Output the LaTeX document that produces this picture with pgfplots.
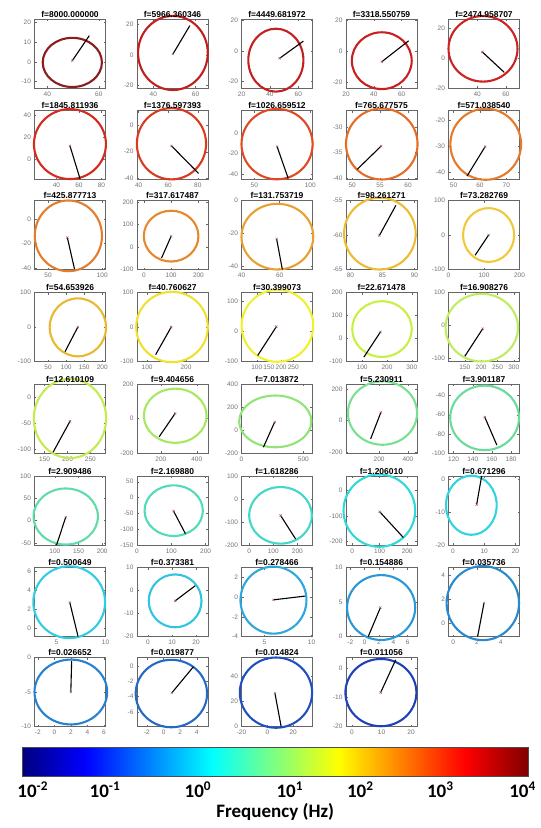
\documentclass[border=0pt]{standalone}
\usepackage{fontspec}
\setmainfont{Liberation Sans}
\newfontfamily\carlito{Carlito}
\usepackage{pgfplots}
\pgfplotsset{compat=1.18}
\definecolor{c1}{HTML}{8E1C1C}
\definecolor{c2}{HTML}{C21E1E}
\definecolor{c3}{HTML}{C42020}
\definecolor{c4}{HTML}{C82020}
\definecolor{c5}{HTML}{CE2222}
\definecolor{c6}{HTML}{D42A20}
\definecolor{c7}{HTML}{DA3A20}
\definecolor{c8}{HTML}{E04A22}
\definecolor{c9}{HTML}{E46C26}
\definecolor{c10}{HTML}{E67A28}
\definecolor{c11}{HTML}{E47C2C}
\definecolor{c12}{HTML}{E6882C}
\definecolor{c13}{HTML}{E8A030}
\definecolor{c14}{HTML}{EEBC30}
\definecolor{c15}{HTML}{F0C838}
\definecolor{c16}{HTML}{E8B830}
\definecolor{c17}{HTML}{F0E030}
\definecolor{c18}{HTML}{F0F030}
\definecolor{c19}{HTML}{C8F040}
\definecolor{c20}{HTML}{C0EC60}
\definecolor{c21}{HTML}{C4EC50}
\definecolor{c22}{HTML}{A8E860}
\definecolor{c23}{HTML}{90E478}
\definecolor{c24}{HTML}{78E090}
\definecolor{c25}{HTML}{68DC98}
\definecolor{c26}{HTML}{60DCA8}
\definecolor{c27}{HTML}{50DCB8}
\definecolor{c28}{HTML}{40D8C8}
\definecolor{c29}{HTML}{30D8D8}
\definecolor{c30}{HTML}{30D4E0}
\definecolor{c31}{HTML}{30CCE0}
\definecolor{c32}{HTML}{30C4E0}
\definecolor{c33}{HTML}{2CA8DC}
\definecolor{c34}{HTML}{2898D8}
\definecolor{c35}{HTML}{2888D0}
\definecolor{c36}{HTML}{2880D0}
\definecolor{c37}{HTML}{2468C8}
\definecolor{c38}{HTML}{2050C0}
\definecolor{c39}{HTML}{2040B8}
\definecolor{jet0}{RGB}{0,0,128}
\definecolor{jet1}{RGB}{0,0,255}
\definecolor{jet2}{RGB}{0,255,255}
\definecolor{jet3}{RGB}{255,255,0}
\definecolor{jet4}{RGB}{255,0,0}
\definecolor{jet5}{RGB}{128,0,0}
\pgfdeclarehorizontalshading{jetbar}{100bp}{color(0bp)=(jet0); color(25bp)=(jet0); color(31.25bp)=(jet1); color(43.75bp)=(jet2); color(56.25bp)=(jet3); color(68.75bp)=(jet4); color(75bp)=(jet5); color(100bp)=(jet5)}
\tikzset{ring/.style={line width=2.1pt}}
\pgfplotsset{
 sub/.style={scale only axis, width=71pt, height=69pt, anchor=north west, clip=false,
   axis line style={draw=black!60, line width=0.5pt},
   tick align=inside, major tick length=2pt, tick style={draw=black!60, line width=0.4pt},
   tick label style={font=\fontsize{6.5}{7}\selectfont, text=black!55},
   /pgf/number format/assume math mode=true,
   scaled ticks=false,
   every axis title shift=0pt,
   title style={font=\bfseries\fontsize{8.5}{9}\selectfont, inner sep=1.5pt},
 },
 vec/.style={black, line width=1.1pt, no marks},
 cen/.style={only marks, mark=x, mark size=1.6pt, draw=red!30!gray, line width=0.4pt},
}
\begin{document}
\begin{tikzpicture}
\useasboundingbox (0,0) rectangle (541pt,-828pt);
% ---------------- row 1
\begin{axis}[sub, at={(34.5pt,-19pt)}, title={f=8000.000000}, xmin=35, xmax=62.6, ymin=-13.2, ymax=21.6, xtick={40,60}, ytick={-10,0,10,20}]
\draw[ring, c1] (axis cs:49.7,-0.3) ellipse [x radius=11.5, y radius=12.4];
\addplot[vec] coordinates {(49.7,0.6) (56.3,13.2)};
\addplot[cen] coordinates {(49.7,0.6)};
\end{axis}
\begin{axis}[sub, at={(137pt,-19pt)}, title={f=5966.360346}, xmin=32.3, xmax=65.9, ymin=-21.5, ymax=23.2, xtick={40,60}, ytick={-20,0,20}]
\draw[ring, c2] (axis cs:49.3,1.2) ellipse [x radius=16.5, y radius=24];
\addplot[vec] coordinates {(49.3,0.5) (57.3,18.9)};
\addplot[cen] coordinates {(49.3,0.5)};
\end{axis}
\begin{axis}[sub, at={(241.5pt,-19pt)}, title={f=4449.681972}, xmin=20, xmax=70, ymin=-24.6, ymax=21, xtick={20,40,60}, ytick={-20,0,20}]
\draw[ring, c3] (axis cs:44.2,-6.2) ellipse [x radius=19.4, y radius=20.8];
\addplot[vec] coordinates {(46.8,-5) (63.6,6.4)};
\addplot[cen] coordinates {(46.8,-5)};
\end{axis}
\begin{axis}[sub, at={(346pt,-19pt)}, title={f=3318.550759}, xmin=20, xmax=71, ymin=-23.7, ymax=21, xtick={20,40,60}, ytick={-20,0,20}]
\draw[ring, c4] (axis cs:45.7,-6) ellipse [x radius=21.5, y radius=18.4];
\addplot[vec] coordinates {(45.7,-6.7) (65,6.9)};
\addplot[cen] coordinates {(45.7,-6.7)};
\end{axis}
\begin{axis}[sub, at={(448.5pt,-19pt)}, title={f=2474.958707}, xmin=20, xmax=69.4, ymin=-20, ymax=26.3, xtick={40,60}, ytick={-20,0,20}]
\draw[ring, c5] (axis cs:44,6.3) ellipse [x radius=24, y radius=22];
\addplot[vec] coordinates {(43.5,4.2) (58.8,-9.5)};
\addplot[cen] coordinates {(43.5,4.2)};
\end{axis}
% ---------------- row 2
\begin{axis}[sub, at={(34.5pt,-110.5pt)}, title={f=1845.811936}, xmin=20.5, xmax=83.6, ymin=-18.5, ymax=44.6, xtick={40,60,80}, ytick={0,20,40}]
\draw[ring, c6] (axis cs:52,13.9) ellipse [x radius=32, y radius=32];
\addplot[vec] coordinates {(52,12.3) (61,-17.9)};
\addplot[cen] coordinates {(52,12.3)};
\end{axis}
\begin{axis}[sub, at={(137pt,-110.5pt)}, title={f=1376.597393}, xmin=38.9, xmax=86.9, ymin=-41.3, ymax=11.6, xtick={40,60,80}, ytick={-40,-20,0}]
\draw[ring, c7] (axis cs:62.2,-13.9) ellipse [x radius=23.4, y radius=27.3];
\addplot[vec] coordinates {(62.2,-15.5) (80.5,-36.6)};
\addplot[cen] coordinates {(62.2,-15.5)};
\end{axis}
\begin{axis}[sub, at={(241.5pt,-110.5pt)}, title={f=1026.659512}, xmin=38.5, xmax=102, ymin=-44.9, ymax=21.8, xtick={50,100}, ytick={-40,-20,0}]
\draw[ring, c8] (axis cs:70.3,-10.7) ellipse [x radius=31.8, y radius=34];
\addplot[vec] coordinates {(70.3,-13) (80.3,-43.9)};
\addplot[cen] coordinates {(70.3,-13)};
\end{axis}
\begin{axis}[sub, at={(346pt,-110.5pt)}, title={f=765.677575}, xmin=48.9, xmax=61.6, ymin=-40.3, ymax=-26.7, xtick={50,55,60}, ytick={-40,-35,-30}]
\draw[ring, c9] (axis cs:55.3,-33.3) ellipse [x radius=6.4, y radius=7];
\addplot[vec] coordinates {(55.2,-33.7) (50.9,-38.3)};
\addplot[cen] coordinates {(55.2,-33.7)};
\end{axis}
\begin{axis}[sub, at={(448.5pt,-110.5pt)}, title={f=571.038540}, xmin=48.1, xmax=75, ymin=-42.9, ymax=-16.1, xtick={50,60,70}, ytick={-40,-30,-20}]
\draw[ring, c10] (axis cs:62.2,-29.2) ellipse [x radius=13.4, y radius=13.8];
\addplot[vec] coordinates {(62,-30.1) (55.1,-41.6)};
\addplot[cen] coordinates {(62,-30.1)};
\end{axis}
% ---------------- row 3
\begin{axis}[sub, at={(34.5pt,-200.5pt)}, title={f=425.877713}, xmin=37.5, xmax=103, ymin=-41.4, ymax=15.2, xtick={50,100}, ytick={-40,-20,0}]
\draw[ring, c11] (axis cs:68.75,-13.8) ellipse [x radius=31, y radius=29];
\addplot[vec] coordinates {(67.8,-15.2) (74.4,-41)};
\addplot[cen] coordinates {(67.8,-15.2)};
\end{axis}
\begin{axis}[sub, at={(137pt,-200.5pt)}, title={f=317.617487}, xmin=-25, xmax=235, ymin=-100, ymax=207, xtick={0,100,200}, ytick={-100,0,100,200}]
\draw[ring, c12] (axis cs:100,48.5) ellipse [x radius=100, y radius=113];
\addplot[vec] coordinates {(100,48) (65,-48.5)};
\addplot[cen] coordinates {(100,48)};
\end{axis}
\begin{axis}[sub, at={(241.5pt,-200.5pt)}, title={f=131.753719}, xmin=40, xmax=77.2, ymin=-42, ymax=0, xtick={40,60}, ytick={-40,-20,0}]
\draw[ring, c13] (axis cs:58.8,-22) ellipse [x radius=18.8, y radius=20];
\addplot[vec] coordinates {(58.4,-23.4) (61.4,-42)};
\addplot[cen] coordinates {(58.4,-23.4)};
\end{axis}
\begin{axis}[sub, at={(346pt,-200.5pt)}, title={f=98.261271}, xmin=79.3, xmax=90.4, ymin=-65, ymax=-55, xtick={80,85,90}, ytick={-65,-60,-55}]
\draw[ring, c14] (axis cs:84.6,-59.8) ellipse [x radius=5.6, y radius=5.2];
\addplot[vec] coordinates {(84.5,-60.1) (87.1,-55.7)};
\addplot[cen] coordinates {(84.5,-60.1)};
\end{axis}
\begin{axis}[sub, at={(448.5pt,-200.5pt)}, title={f=73.282769}, xmin=0, xmax=200, ymin=-100, ymax=100, xtick={0,100,200}, ytick={-100,0,100}]
\draw[ring, c15] (axis cs:113,0) ellipse [x radius=72, y radius=78];
\addplot[vec] coordinates {(113,0) (75,-58.6)};
\addplot[cen] coordinates {(113,0)};
\end{axis}
% ---------------- row 4
\begin{axis}[sub, at={(34.5pt,-292.5pt)}, title={f=54.653926}, xmin=12.5, xmax=209, ymin=-100, ymax=100, xtick={50,100,150,200}, ytick={-100,0,100}]
\draw[ring, c16] (axis cs:132.5,-1) ellipse [x radius=78, y radius=84];
\addplot[vec] coordinates {(132.5,0) (97,-71.4)};
\addplot[cen] coordinates {(132.5,0)};
\end{axis}
\begin{axis}[sub, at={(137pt,-292.5pt)}, title={f=40.760627}, xmin=74, xmax=256.5, ymin=-100, ymax=100, xtick={100,200}, ytick={-100,0,100}]
\draw[ring, c17] (axis cs:164,0) ellipse [x radius=92, y radius=102];
\addplot[vec] coordinates {(162,0) (122,-80)};
\addplot[cen] coordinates {(162,0)};
\end{axis}
\begin{axis}[sub, at={(241.5pt,-292.5pt)}, title={f=30.399073}, xmin=37.5, xmax=329, ymin=-100, ymax=130, xtick={100,150,200,250}, ytick={-100,0,100}]
\draw[ring, c18] (axis cs:185,19) ellipse [x radius=147, y radius=120];
\addplot[vec] coordinates {(181,16.7) (104,-80)};
\addplot[cen] coordinates {(181,16.7)};
\end{axis}
\begin{axis}[sub, at={(346pt,-292.5pt)}, title={f=22.671478}, xmin=35, xmax=321, ymin=-100, ymax=200, xtick={100,200,300}, ytick={-100,0,100,200}]
\draw[ring, c19] (axis cs:180,41) ellipse [x radius=120, y radius=121];
\addplot[vec] coordinates {(174,29) (107,-81)};
\addplot[cen] coordinates {(174,29)};
\end{axis}
\begin{axis}[sub, at={(448.5pt,-292.5pt)}, title={f=16.908276}, xmin=100, xmax=317.6, ymin=-110, ymax=100, xtick={150,200,250,300}, ytick={-100,0,100}]
\draw[ring, c20] (axis cs:202,-7) ellipse [x radius=111, y radius=103];
\addplot[vec] coordinates {(205,-10) (150,-94)};
\addplot[cen] coordinates {(205,-10)};
\end{axis}
% ---------------- row 5
\begin{axis}[sub, at={(34.5pt,-384pt)}, title={f=12.610109}, xmin=128, xmax=283, ymin=-108, ymax=24.5, xtick={150,200,250}, ytick={-100,-50,0}]
\draw[ring, c21] (axis cs:205.5,-41.7) ellipse [x radius=79, y radius=76];
\addplot[vec] coordinates {(205.5,-47) (168.5,-106.6)};
\addplot[cen] coordinates {(205.5,-47)};
\end{axis}
\begin{axis}[sub, at={(137pt,-384pt)}, title={f=9.404656}, xmin=66.7, xmax=463, ymin=-200, ymax=200, xtick={200,400}, ytick={-200,0,200}]
\draw[ring, c22] (axis cs:280,16) ellipse [x radius=175, y radius=157];
\addplot[vec] coordinates {(280,30) (190.5,-105.6)};
\addplot[cen] coordinates {(280,30)};
\end{axis}
\begin{axis}[sub, at={(241.5pt,-384pt)}, title={f=7.013872}, xmin=0, xmax=574, ymin=-200, ymax=400, xtick={0,500}, ytick={-200,0,200,400}]
\draw[ring, c23] (axis cs:273,75) ellipse [x radius=292, y radius=225];
\addplot[vec] coordinates {(268,69) (177,-150)};
\addplot[cen] coordinates {(268,69)};
\end{axis}
\begin{axis}[sub, at={(346pt,-384pt)}, title={f=5.230911}, xmin=-30, xmax=463, ymin=-204, ymax=231, xtick={200,400}, ytick={-200,0,200}]
\draw[ring, c24] (axis cs:223.5,48) ellipse [x radius=240, y radius=200];
\addplot[vec] coordinates {(212,52) (141,-115)};
\addplot[cen] coordinates {(212,52)};
\end{axis}
\begin{axis}[sub, at={(448.5pt,-384pt)}, title={f=3.901187}, xmin=114.7, xmax=188.8, ymin=-100, ymax=-27.9, xtick={120,140,160,180}, ytick={-100,-80,-60,-40}]
\draw[ring, c25] (axis cs:152.4,-63.3) ellipse [x radius=35.9, y radius=33.7];
\addplot[vec] coordinates {(152.5,-62.4) (165.2,-91.8)};
\addplot[cen] coordinates {(152.5,-62.4)};
\end{axis}
% ---------------- row 6
\begin{axis}[sub, at={(34.5pt,-476pt)}, title={f=2.909486}, xmin=57, xmax=207, ymin=-55, ymax=100, xtick={100,150,200}, ytick={-50,0,50,100}]
\draw[ring, c26] (axis cs:123,9) ellipse [x radius=68, y radius=63];
\addplot[vec] coordinates {(123,7.6) (103.6,-55)};
\addplot[cen] coordinates {(123,7.6)};
\end{axis}
\begin{axis}[sub, at={(137pt,-476pt)}, title={f=2.169880}, xmin=0, xmax=207, ymin=-150, ymax=68, xtick={0,100,200}, ytick={-150,-100,-50,0,50}]
\draw[ring, c27] (axis cs:107,-41.5) ellipse [x radius=85, y radius=80];
\addplot[vec] coordinates {(106.5,-42.6) (141,-114)};
\addplot[cen] coordinates {(106.5,-42.6)};
\end{axis}
\begin{axis}[sub, at={(241.5pt,-476pt)}, title={f=1.618286}, xmin=-32, xmax=263, ymin=-200, ymax=100, xtick={0,100,200}, ytick={-200,-100,0,100}]
\draw[ring, c28] (axis cs:130,-71) ellipse [x radius=130, y radius=123];
\addplot[vec] coordinates {(130,-71) (193,-174)};
\addplot[cen] coordinates {(130,-71)};
\end{axis}
\begin{axis}[sub, at={(346pt,-476pt)}, title={f=1.206010}, xmin=-22, xmax=235.6, ymin=-213, ymax=54, xtick={0,100,200}, ytick={-200,-100,0}]
\draw[ring, c29] (axis cs:99,-80) ellipse [x radius=130, y radius=140];
\addplot[vec] coordinates {(100,-84) (186,-184)};
\addplot[cen] coordinates {(100,-84)};
\end{axis}
\begin{axis}[sub, at={(448.5pt,-476pt)}, title={f=0.671296}, xmin=-1.4, xmax=21.3, ymin=-20, ymax=1, xtick={0,10,20}, ytick={-20,-10,0}]
\draw[ring, c30] (axis cs:5.9,-7.9) ellipse [x radius=8.1, y radius=9];
\addplot[vec] coordinates {(7.6,-7.7) (9.2,1)};
\addplot[cen] coordinates {(7.6,-7.7)};
\end{axis}
% ---------------- row 7
\begin{axis}[sub, at={(34.5pt,-567.5pt)}, title={f=0.500649}, xmin=2.76, xmax=10, ymin=-0.9, ymax=6.4, xtick={5,10}, ytick={0,2,4,6}]
\draw[ring, c31] (axis cs:6.3,2.73) ellipse [x radius=3.66, y radius=3.8];
\addplot[vec] coordinates {(6.36,2.7) (7.2,-0.9)};
\addplot[cen] coordinates {(6.36,2.7)};
\end{axis}
\begin{axis}[sub, at={(137pt,-567.5pt)}, title={f=0.373381}, xmin=-4.6, xmax=25, ymin=-20, ymax=10, xtick={0,10,20}, ytick={-20,-10,0,10}]
\draw[ring, c32] (axis cs:11.3,-4.5) ellipse [x radius=11, y radius=11.5];
\addplot[vec] coordinates {(11.3,-4.5) (19.7,2.1)};
\addplot[cen] coordinates {(11.3,-4.5)};
\end{axis}
\begin{axis}[sub, at={(241.5pt,-567.5pt)}, title={f=0.278466}, xmin=2.57, xmax=10.1, ymin=-4, ymax=3, xtick={5,10}, ytick={-4,-2,0,2}]
\draw[ring, c33] (axis cs:5.96,-0.31) ellipse [x radius=3.5, y radius=3.4];
\addplot[vec] coordinates {(5.96,-0.28) (9.3,0.1)};
\addplot[cen] coordinates {(5.96,-0.28)};
\end{axis}
\begin{axis}[sub, at={(346pt,-567.5pt)}, title={f=0.154886}, xmin=-2.6, xmax=7.3, ymin=0, ymax=10, xtick={-2,0,2,4,6}, ytick={0,5,10}]
\draw[ring, c34] (axis cs:2.3,4.2) ellipse [x radius=4.75, y radius=4.7];
\addplot[vec] coordinates {(2.2,4.2) (0.5,0)};
\addplot[cen] coordinates {(2.2,4.2)};
\end{axis}
\begin{axis}[sub, at={(448.5pt,-567.5pt)}, title={f=0.035736}, xmin=-0.4, xmax=5.6, ymin=-1.1, ymax=4.6, xtick={0,2,4}, ytick={0,2,4}]
\draw[ring, c35] (axis cs:2.5,1.66) ellipse [x radius=3.06, y radius=3.06];
\addplot[vec] coordinates {(2.6,1.66) (2.06,-1.1)};
\addplot[cen] coordinates {(2.6,1.66)};
\end{axis}
% ---------------- row 8
\begin{axis}[sub, at={(34.5pt,-657.5pt)}, title={f=0.026652}, xmin=-2.4, xmax=6.2, ymin=-10, ymax=0, xtick={-2,0,2,4,6}, ytick={-10,-5,0}]
\draw[ring, c36] (axis cs:2,-5) ellipse [x radius=4.4, y radius=4.7];
\addplot[vec] coordinates {(2,-5) (2.1,-0.5)};
\addplot[cen] coordinates {(2,-5)};
\end{axis}
\begin{axis}[sub, at={(137pt,-657.5pt)}, title={f=0.019877}, xmin=-3.2, xmax=5.35, ymin=-7.9, ymax=1.1, xtick={-2,0,2,4}, ytick={-6,-4,-2,0}]
\draw[ring, c37] (axis cs:0.94,-3.6) ellipse [x radius=4.3, y radius=4.4];
\addplot[vec] coordinates {(1,-3.5) (3.6,-0.1)};
\addplot[cen] coordinates {(1,-3.5)};
\end{axis}
\begin{axis}[sub, at={(241.5pt,-657.5pt)}, title={f=0.014824}, xmin=-20, xmax=35, ymin=0, ymax=55, xtick={-20,0,20}, ytick={0,20,40}]
\draw[ring, c38] (axis cs:6.7,27) ellipse [x radius=28, y radius=28];
\addplot[vec] coordinates {(5.9,26.5) (10.7,0)};
\addplot[cen] coordinates {(5.9,26.5)};
\end{axis}
\begin{axis}[sub, at={(346pt,-657.5pt)}, title={f=0.011056}, xmin=-2, xmax=22, ymin=-20, ymax=3.8, xtick={0,10,20}, ytick={-20,-10,0}]
\draw[ring, c39] (axis cs:9.8,-8.3) ellipse [x radius=12, y radius=11.6];
\addplot[vec] coordinates {(9.7,-8.3) (14.8,3)};
\addplot[cen] coordinates {(9.7,-8.3)};
\end{axis}
% ---------------- colorbar (log10 of frequency)
\begin{axis}[at={(22.4pt,-747pt)}, anchor=north west, scale only axis, width=505.6pt, height=29pt,
  xmin=-2, xmax=4, ymin=0, ymax=1, axis on top,
  axis line style={draw=black!70, line width=0.5pt},
  ytick=\empty,
  xtick={-1.877,-1.02,0.083,1.174,2.01,2.96,3.936},
  xticklabels={10\textsuperscript{-2},10\textsuperscript{-1},10\textsuperscript{0},10\textsuperscript{1},10\textsuperscript{2},10\textsuperscript{3},10\textsuperscript{4}},
  major tick length=0pt,
  xticklabel style={font=\carlito\bfseries\fontsize{19}{20}\selectfont, text=black, inner sep=2pt, yshift=-4pt},
  xlabel={Frequency (Hz)},
  xlabel style={font=\carlito\bfseries\fontsize{19}{20}\selectfont, text=black, inner sep=0pt, yshift=-4pt}]
\path[shading=jetbar] (axis cs:-2,0) rectangle (axis cs:4,1);
\addplot[draw=none] coordinates {(-2,0) (4,1)};
\end{axis}
\end{tikzpicture}
\end{document}
